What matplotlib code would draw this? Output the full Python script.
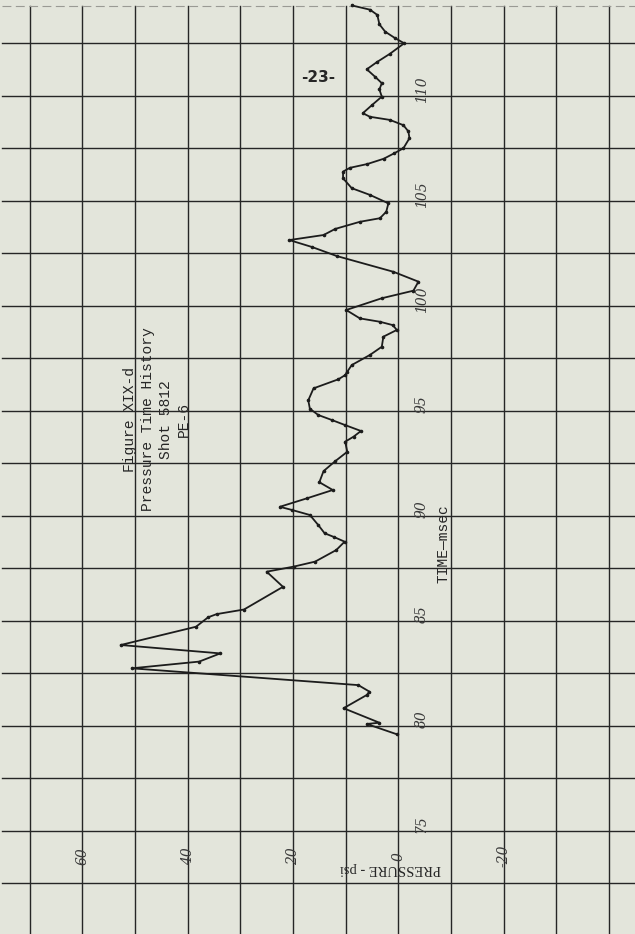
import matplotlib.pyplot as plt
import numpy as np

# trace: time (msec) and pressure (psi)
time_ms = [79.6, 80.09, 80.15, 80.84, 81.47, 81.63, 81.94, 82.74, 83.06, 83.45,
           83.85, 84.72, 85.17, 85.32, 85.54, 86.62, 87.34, 87.58, 87.82, 88.37,
           88.77, 89.0, 89.17, 89.56, 90.04, 90.28, 90.43, 90.83, 91.23, 91.6,
           92.13, 92.6, 93.05, 93.53, 93.77, 94.04, 94.32, 94.56, 94.8, 95.1,
           95.5, 96.07, 96.5, 96.7, 96.86, 97.18, 97.66, 98.05, 98.53, 98.85,
           99.08, 99.24, 99.4, 99.8, 100.36, 100.72, 101.15, 101.62, 102.37, 102.8,
           103.13, 103.37, 103.66, 104.0, 104.17, 104.48, 104.88, 105.28, 105.6, 106.07,
           106.39, 106.57, 106.75, 107.0, 107.26, 107.5, 107.98, 108.3, 108.6, 108.85,
           109.0, 109.17, 109.56, 109.96, 110.3, 110.6, 110.9, 111.26, 111.6, 112.0,
           112.5, 112.74, 113.05, 113.4, 113.85, 114.1, 114.3]
pressure = [0.3, 6.0, 3.6, 10.4, 6.0, 5.5, 7.6, 50.6, 37.8, 33.8,
            52.7, 38.4, 36.1, 34.5, 29.3, 21.9, 25.0, 19.9, 15.8, 11.8,
            10.2, 12.3, 14.0, 15.2, 16.8, 20.2, 22.5, 17.4, 12.45, 15.0,
            14.2, 12.0, 9.7, 10.1, 8.5, 7.1, 10.1, 12.6, 15.2, 16.8,
            17.1, 16.1, 11.4, 10.1, 9.7, 8.85, 5.4, 3.15, 2.85, 0.3,
            1.06, 3.5, 7.3, 9.9, 3.15, -2.85, -3.8, 0.95, 11.7, 16.4,
            20.7, 14.2, 12.0, 7.3, 3.5, 2.3, 1.9, 5.4, 8.85, 10.5,
            10.5, 9.2, 5.9, 2.8, 0.8, -0.95, -2.1, -1.9, -0.95, 1.6,
            5.4, 6.75, 5.0, 3.15, 3.6, 3.15, 4.4, 6.0, 4.1, 1.6,
            -1.1, 0.6, 2.5, 3.6, 4.0, 5.4, 8.8]

p_ticks = [60, 40, 20, 0, -20]
p_tick_labels = ["60", "40", "20", "0", "-20"]
t_ticks = [75, 80, 85, 90, 95, 100, 105, 110]
t_tick_labels = ["75", "80", "85", "90", "95", "100", "105", "110"]
title_lines = "Figure XIX-d\nPressure Time History\nShot 5812\nPE-6"

paper = '#e3e5db'
ink = '#262626'

fig = plt.figure(figsize=(6.35, 9.34), dpi=100, facecolor=paper)
ax = fig.add_axes([0, 0, 1, 1], facecolor=paper)
ax.set_xlim(75.6, -44.9)
ax.set_ylim(70.09, 114.56)
ax.axis('off')

# graph paper grid
for p in range(70, -41, -10):
    ax.plot([p, p], [70.1, 114.26], color=ink, lw=1.0, zorder=1)
for t in np.arange(72.5, 113, 2.5):
    ax.plot([75.2, -44.9], [t, t], color=ink, lw=1.0, zorder=1)
ax.plot([75.2, -44.9], [114.26, 114.26], color='#9a9a94', lw=0.8, ls=(0, (8, 4)), zorder=1)

# pressure trace
ax.plot(pressure, time_ms, color='#1c1c1c', lw=1.3, marker='o', ms=1.6, zorder=3)

# handwritten axis numbers
for p, lab in zip(p_ticks, p_tick_labels):
    ax.text(p, 73.8, lab, rotation=90, ha='center', va='center', fontsize=10,
            family='DejaVu Serif', style='italic', color='#3a3a3a')
for t, lab in zip(t_ticks, t_tick_labels):
    ax.text(-4.4, t + 0.3, lab, rotation=90, ha='center', va='center', fontsize=10,
            family='DejaVu Serif', style='italic', color='#3a3a3a')

# typed labels
ax.text(45.8, 94.6, title_lines, rotation=90, ha='center', va='center',
        multialignment='center', fontsize=10.5, family='Liberation Mono',
        color=ink, linespacing=1.35)
ax.text(-8.5, 88.7, "TIME\u2014msec", rotation=90, ha='center', va='center',
        fontsize=10.5, family='Liberation Mono', color=ink)
ax.text(1.5, 73.23, "PRESSURE - psi", rotation=180, ha='center', va='center',
        fontsize=10.5, family='Liberation Serif', color=ink)
ax.text(15.2, 110.88, "-23-", ha='center', va='center', fontsize=11,
        family='DejaVu Sans', weight='bold', color=ink)

fig.savefig('out.png', dpi=100, facecolor=paper)
